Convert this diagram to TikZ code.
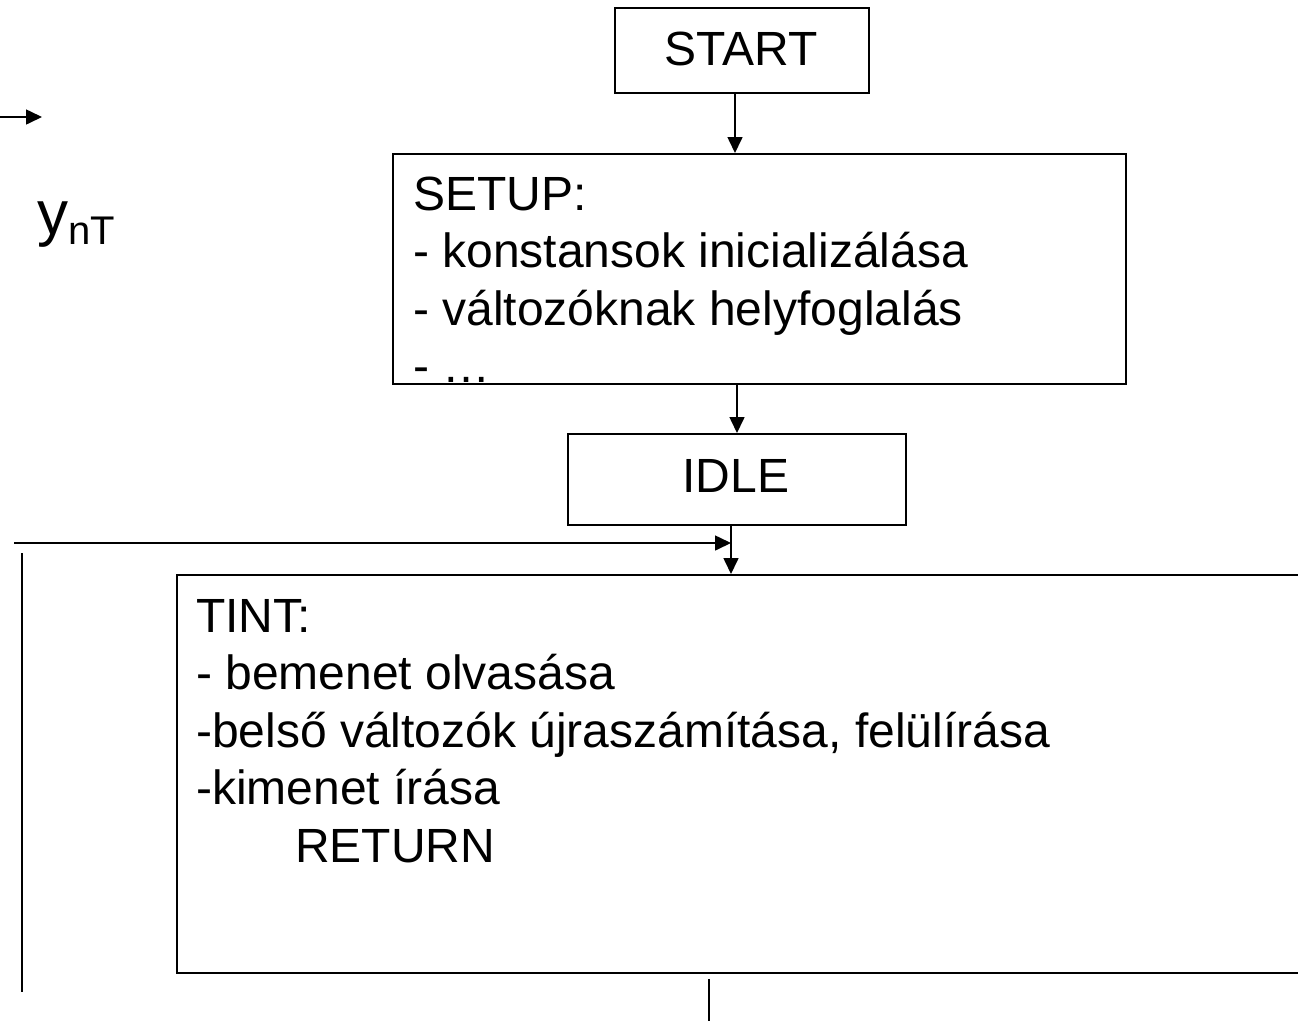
\documentclass[tikz,border=0pt]{standalone}
\usepackage{fontspec}
\setmainfont{Liberation Sans}
\usetikzlibrary{arrows.meta}
\begin{document}
\begin{tikzpicture}[x=1pt,y=-1pt,
  box/.style={draw,line width=1.8pt,inner sep=0pt,anchor=north west},
  txt/.style={anchor=base west,inner sep=0pt,font=\fontsize{48}{57.6}\selectfont},
  ctxt/.style={txt,anchor=base},
  conn/.style={line width=1.6pt},
  arr/.style={conn,-{Triangle[length=16pt,width=15pt]}}]
\useasboundingbox (0,0) rectangle (1298,1021);

% boxes of the flow chart
\node[box,minimum width=254pt,minimum height=85pt] (start) at (614,7) {};
\node[box,minimum width=733pt,minimum height=230pt] (setup) at (392,153) {};
\node[box,minimum width=338pt,minimum height=91pt] (idle) at (567,433) {};
\node[box,minimum width=1164pt,minimum height=398pt] (tint) at (176,574) {};

% box texts
\node[ctxt] (starttxt) at (741,65) {START};
\node[ctxt] (idletxt) at (736,492) {IDLE};

\node[txt] (setup1) at (413,210) {SETUP:};
\node[txt] (setup2) at (413,267.6) {- konstansok inicializálása};
\node[txt] (setup3) at (413,325.2) {- változóknak helyfoglalás};
\node[txt] (setup4) at (413,382.8) {- …};

\node[txt] (tint1) at (196,632) {TINT:};
\node[txt] (tint2) at (196,689.6) {- bemenet olvasása};
\node[txt] (tint3) at (196,747.2) {-belső változók újraszámítása, felülírása};
\node[txt] (tint4) at (196,804.8) {-kimenet írása};
\node[txt] (tint5) at (295,862.4) {RETURN};

% output label at the left
\node[anchor=base west,inner sep=0pt] (ynt) at (37,234)
  {\fontsize{62}{66}\selectfont y\raisebox{-10pt}{\fontsize{40}{44}\selectfont nT}};

% connectors
\coordinate (c1) at (735,0);
\coordinate (c2) at (737,0);
\coordinate (c3) at (731,0);
\draw[arr] (c1 |- start.south) -- (c1 |- setup.north);
\draw[arr] (c2 |- setup.south) -- (c2 |- idle.north);
\draw[arr] (c3 |- idle.south) -- (c3 |- tint.north);

\coordinate (h0) at (14,543);
\draw[arr] (h0) -- (h0 -| c3);

\coordinate (v0) at (22,553);
\coordinate (v1) at (22,992);
\draw[conn] (v0) -- (v1);

\coordinate (b1) at (709,1021);
\draw[conn] ([yshift=-5pt]tint.south -| b1) -- (b1);

\coordinate (t0) at (0,117);
\coordinate (t1) at (42,117);
\draw[arr] (t0) -- (t1);
\end{tikzpicture}
\end{document}
